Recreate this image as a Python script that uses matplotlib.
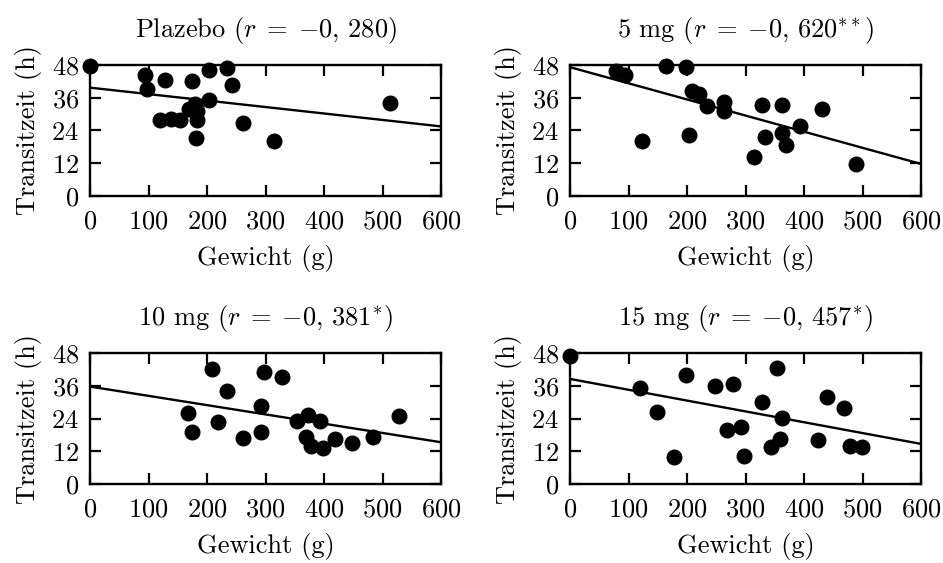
import numpy as np
import matplotlib
matplotlib.use("Agg")
import matplotlib.pyplot as plt

plt.rcParams['font.family'] = ['cmr10', 'DejaVu Serif']
plt.rcParams['mathtext.fontset'] = 'cm'
plt.rcParams['axes.formatter.use_mathtext'] = True

# Panel titles
titles = [
    r"Plazebo ($r\;=\;{-0},\,280$)",
    r"5 mg ($r\;=\;{-0},\,620^{**}$)",
    r"10 mg ($r\;=\;{-0},\,381^{*}$)",
    r"15 mg ($r\;=\;{-0},\,457^{*}$)",
]

# Gewicht (g) / Transitzeit (h) per group
plazebo_x = [0, 94, 98, 128, 175, 204, 234, 242, 204, 170, 179, 183, 120, 138, 154, 183, 181, 262, 315, 513]
plazebo_y = [47.5, 44.2, 39.3, 42.6, 42.0, 46.3, 47.0, 40.5, 35.3, 31.7, 33.8, 31.3, 27.7, 28.2, 27.7, 27.7, 21.1, 26.9, 20.3, 34.1]

mg5_x = [79, 94, 164, 198, 209, 220, 234, 264, 264, 329, 362, 430, 394, 362, 369, 334, 315, 123, 204, 489]
mg5_y = [45.9, 44.3, 47.5, 47.2, 38.6, 37.2, 32.8, 34.4, 31.3, 33.5, 33.5, 31.9, 25.5, 23.0, 18.8, 21.7, 14.2, 20.3, 22.4, 11.8]

mg10_x = [209, 298, 329, 234, 293, 167, 218, 175, 262, 292, 353, 373, 394, 370, 378, 399, 419, 448, 484, 529]
mg10_y = [42.1, 41.1, 39.3, 34.2, 28.5, 25.9, 22.6, 19.2, 17.0, 19.2, 23.2, 25.3, 23.2, 17.1, 13.8, 13.3, 16.5, 15.0, 17.4, 25.0]

mg15_x = [0, 120, 148, 178, 198, 248, 278, 268, 293, 297, 329, 353, 362, 359, 343, 424, 440, 468, 479, 499]
mg15_y = [47.0, 35.2, 26.5, 10.0, 40.0, 36.0, 36.6, 19.9, 21.0, 10.3, 30.2, 42.5, 24.2, 16.6, 13.6, 16.3, 31.7, 27.9, 14.1, 13.4]

# Regression lines: value at 0 g and at 600 g
fit_start = [39.7, 47.2, 35.7, 38.5]
fit_end = [25.5, 11.75, 15.3, 14.7]

xs = [plazebo_x, mg5_x, mg10_x, mg15_x]
ys = [plazebo_y, mg5_y, mg10_y, mg15_y]

x_ticks = [0, 100, 200, 300, 400, 500, 600]
y_ticks = [0, 12, 24, 36, 48]

fig = plt.figure(figsize=(9.43, 5.63), dpi=100)
W, H = 943, 563
boxes = [(90, 65, 441, 196), (570, 65, 921, 196),
         (90, 353, 441, 484), (570, 353, 921, 484)]

fs = 19
for i, (l, t, r, b) in enumerate(boxes):
    ax = fig.add_axes([l / W, 1 - b / H, (r - l) / W, (b - t) / H])
    ax.plot(xs[i], ys[i], 'o', color='black', markersize=10.5, clip_on=False, zorder=3)
    ax.plot([0, 600], [fit_start[i], fit_end[i]], color='black', lw=1.7)
    ax.set_xlim(0, 600)
    ax.set_ylim(0, 48)
    ax.set_xticks(x_ticks)
    ax.set_yticks(y_ticks)
    ax.tick_params(direction='in', length=8, width=1.6, top=True, right=True,
                   labelsize=fs)
    ax.tick_params(axis='x', pad=10)
    ax.tick_params(axis='y', pad=8)
    for s in ax.spines.values():
        s.set_linewidth(1.7)
    ax.set_xlabel("Gewicht (g)", fontsize=fs, labelpad=8)
    ax.set_ylabel("Transitzeit (h)", fontsize=fs, labelpad=7)
    ax.set_title(titles[i], fontsize=fs, pad=20)

fig.savefig("out.png", dpi=100)
